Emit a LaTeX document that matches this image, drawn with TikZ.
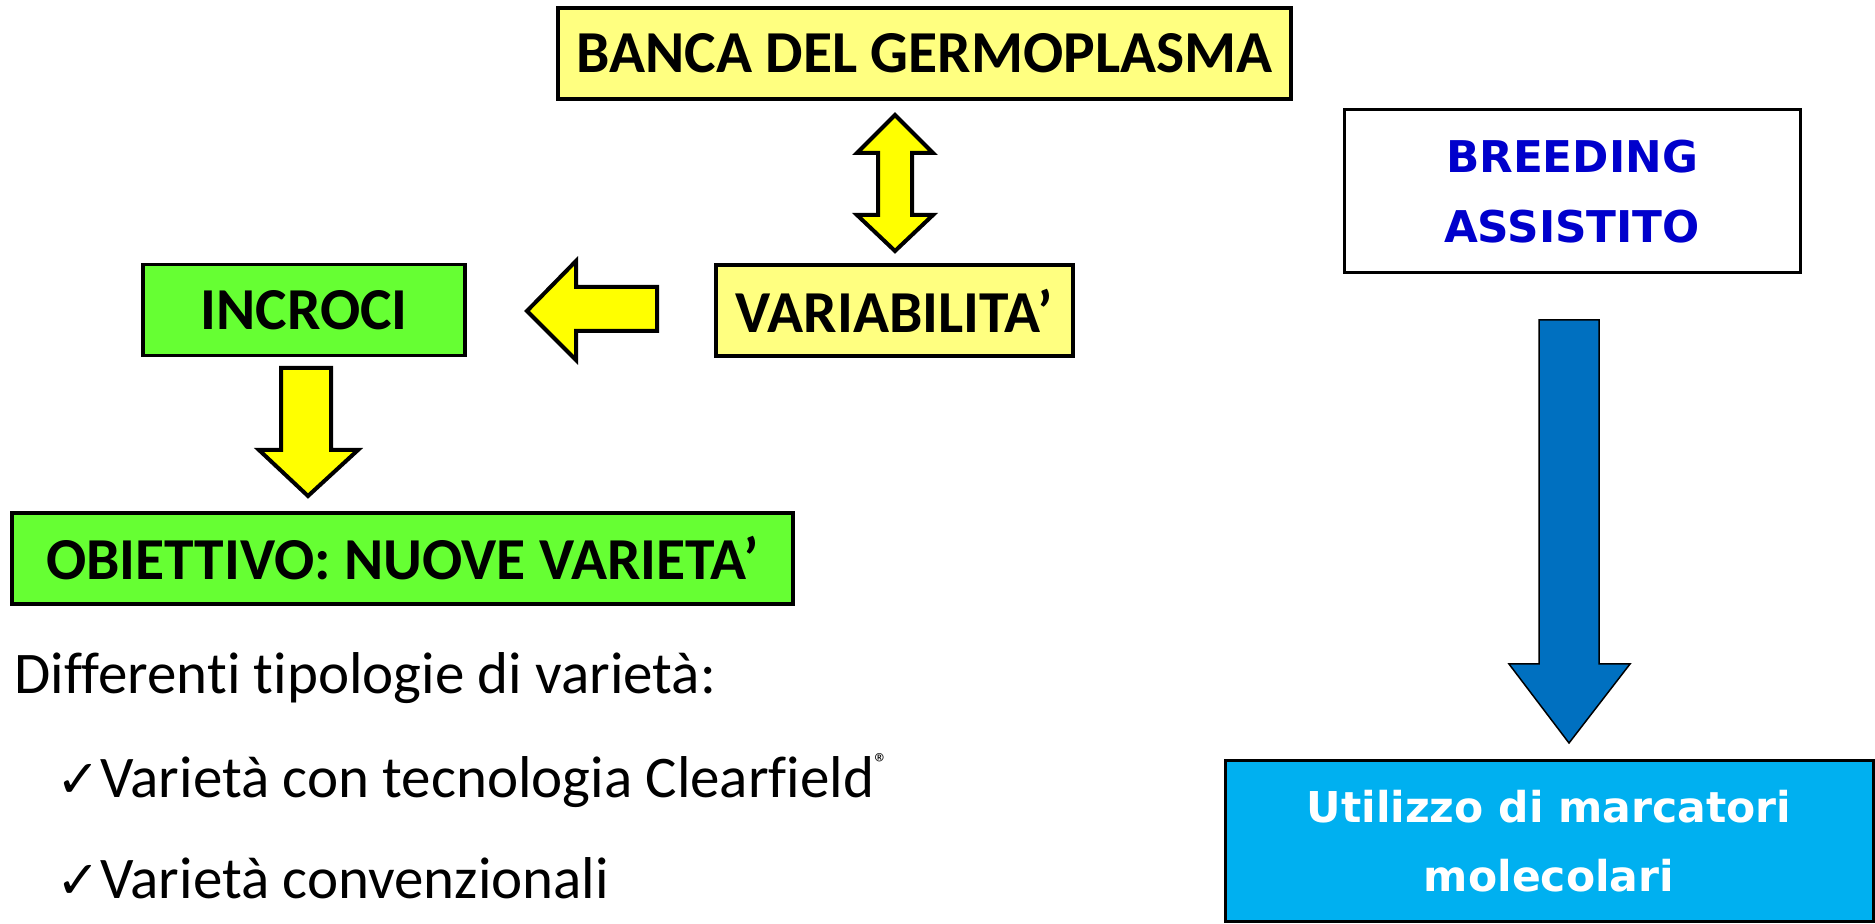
\documentclass[tikz,border=0pt]{standalone}
\usepackage{fontspec}
\setmainfont{Carlito}[RawFeature=-liga]
\newfontfamily\verd{DejaVu Sans}
\newfontfamily\sym{DejaVu Sans}
\definecolor{lyellow}{HTML}{FFFF80}
\definecolor{ayellow}{HTML}{FFFF00}
\definecolor{lgreen}{HTML}{66FF33}
\definecolor{darrow}{HTML}{0070C0}
\definecolor{cyanbox}{HTML}{00B0F0}
\definecolor{bluetxt}{HTML}{0000CC}
\tikzset{
  box/.style={draw=black, line width=1.3pt, inner sep=0pt, minimum height=36.4pt, font=\bfseries\fontsize{23.8}{28}\selectfont, align=center},
  ybox/.style={box, fill=lyellow},
  gbox/.style={box, fill=lgreen},
  yarrow/.style={draw=black, fill=ayellow, line width=1.6pt, line join=miter},
  barrow/.style={draw=black, fill=darrow, line width=0.6pt},
  bodytext/.style={anchor=base west, inner sep=0pt, font=\fontsize{23.6}{28}\selectfont}
}
\begin{document}
\begin{tikzpicture}[x=0.4pt,y=-0.4pt]
\useasboundingbox (0,0) rectangle (1875,924);
% boxes
\node[ybox, minimum width=293.2pt] (banca) at (924.5,53.5) {BANCA DEL GERMOPLASMA};
\node[ybox, minimum width=142.8pt] (var) at (894.5,310.5) {VARIABILITA’};
\node[gbox, minimum width=128.8pt] (incr) at (304,310) {INCROCI};
\node[gbox, minimum width=312.4pt] (obi) at (402.5,558.5) {OBIETTIVO: NUOVE VARIETA’};
\node[draw=black, line width=1.2pt, fill=white, minimum width=182.4pt, minimum height=65.2pt, inner sep=0pt, align=center,
      font=\verd\bfseries\fontsize{17.5}{28}\selectfont, text=bluetxt] (breed) at (1572,191.5) {BREEDING\\ASSISTITO};
\node[draw=black, line width=1.2pt, fill=cyanbox, minimum width=259.2pt, minimum height=64.4pt, inner sep=0pt, align=center,
      font=\verd\bfseries\fontsize{17}{27.5}\selectfont, text=white] (util) at (1549,841.5) {Utilizzo di marcatori\\molecolari};
% block arrows
\draw[yarrow] (895,115) -- (933,153) -- (912,153) -- (912,215) -- (933,215) -- (895,251)
  -- (857,215) -- (878,215) -- (878,153) -- (857,153) -- cycle;
\draw[yarrow] (527,311) -- (576,261) -- (576,287) -- (657,287) -- (657,331) -- (576,331) -- (576,360) -- cycle;
\draw[yarrow] (281,368) -- (331,368) -- (331,450) -- (358,450) -- (308,496) -- (259,450) -- (281,450) -- cycle;
\draw[barrow] (1539,320) -- (1599,320) -- (1599,664) -- (1630,664) -- (1569,743) -- (1509,664) -- (1539,664) -- cycle;
% text
\node[bodytext] (t1) at (14,694) {Differenti tipologie di varietà:};
\node[bodytext] (t2) at (56,798) {{\sym\fontsize{21}{24}\selectfont ✓}Varietà con tecnologia Clearfield\raisebox{0.9ex}{\fontsize{11}{12}\selectfont ®}};
\node[bodytext] (t3) at (56,899) {{\sym\fontsize{21}{24}\selectfont ✓}Varietà convenzionali};
\end{tikzpicture}
\end{document}
